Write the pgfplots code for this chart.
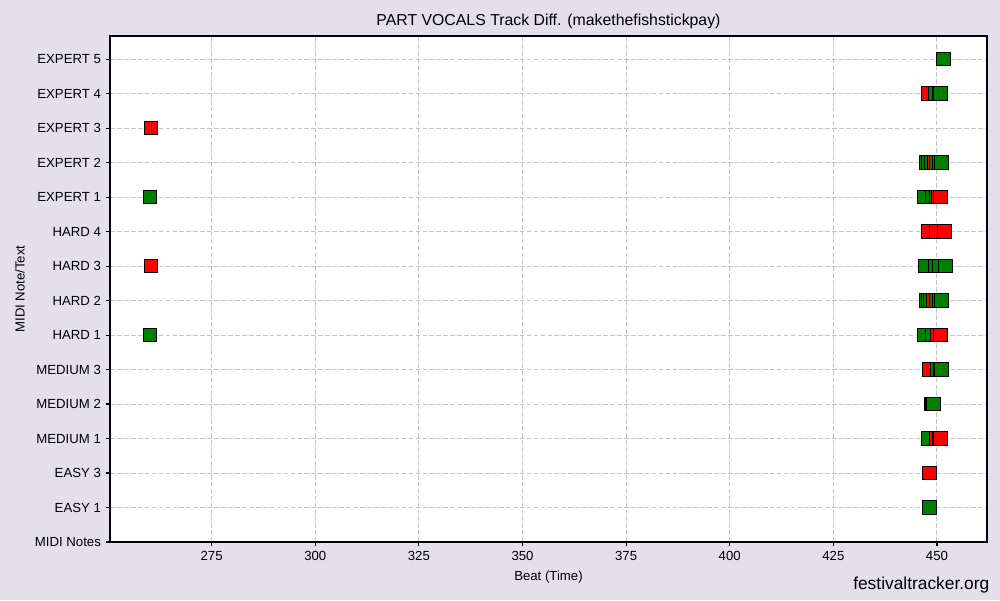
\documentclass[border=0pt]{standalone}
\usepackage{pgfplots}
\pgfplotsset{compat=1.18}
\usepackage{fontspec}
\setmainfont{Liberation Sans}
\definecolor{bgc}{RGB}{228,224,233}
\definecolor{mplgreen}{RGB}{0,128,0}
\definecolor{mplred}{RGB}{255,0,0}
\definecolor{gridc}{RGB}{196,196,196}
\pgfplotstableread{
x y c
451.63 14 g
448.01 13 r
449.70 13 g
450.66 13 g
450.83 13 g
260.40 12 r
447.53 11 g
448.00 11 g
448.73 11 g
449.38 11 r
449.94 11 g
450.59 11 g
451.15 11 g
260.12 10 g
447.04 10 g
448.97 10 g
449.94 10 g
450.30 10 r
450.90 10 r
448.01 9 r
449.90 9 r
451.80 9 r
260.36 8 r
447.21 8 g
449.63 8 g
450.59 8 g
452.04 8 g
447.36 7 g
447.84 7 g
448.42 7 g
449.14 7 r
449.77 7 g
450.59 7 g
451.07 7 g
260.12 6 g
447.04 6 g
448.97 6 g
450.01 6 r
450.90 6 r
448.18 5 r
450.01 5 g
450.83 5 g
451.07 5 g
448.57 4 r
448.88 4 g
449.22 4 g
448.01 3 g
449.77 3 r
450.59 3 r
450.90 3 r
448.13 2 r
448.13 1 g
}\pts
\begin{document}
\begin{tikzpicture}
\fill[bgc] (0pt,0pt) rectangle (720pt,432pt);
\begin{axis}[
  at={(79.2pt,41.76pt)}, anchor=south west,
  scale only axis, width=631.4pt, height=364.3pt,
  xmin=250.47, xmax=462.06, ymin=0, ymax=14.67,
  axis background/.style={fill=white},
  axis on top,
  axis line style={black, line width=0.8pt},
  xtick={275,300,...,450},
  ytick={0,...,14},
  yticklabels={MIDI Notes,EASY 1,EASY 3,MEDIUM 1,MEDIUM 2,MEDIUM 3,HARD 1,HARD 2,HARD 3,HARD 4,EXPERT 1,EXPERT 2,EXPERT 3,EXPERT 4,EXPERT 5},
  tick align=outside, major tick length=3pt,
  tick style={black, line width=0.8pt},
  xtick pos=bottom, ytick pos=left,
  grid=major,
  major grid style={gridc, line width=0.7pt, dash pattern=on 3.4pt off 1.6pt},
  ticklabel style={font=\fontsize{9.5}{11}\selectfont},
  /pgf/number format/assume math mode=true,
  /pgf/number format/1000 sep={},
  clip=false,
]
\addplot[only marks, scatter, scatter src=explicit symbolic,
  mark size=4.9pt, line width=0.7pt,
  scatter/classes={
    g={mark=square*, draw=black, fill=mplgreen},
    r={mark=square*, draw=black, fill=mplred}}]
  table[x=x, y=y, meta=c] {\pts};
\end{axis}
\node[font=\fontsize{11.4}{13}\selectfont] at (394.9pt,416.6pt) {PART VOCALS Track Diff. (makethefishstickpay)};
\node[font=\fontsize{9.5}{11}\selectfont] at (394.9pt,16.3pt) {Beat (Time)};
\node[font=\fontsize{9.5}{11}\selectfont, rotate=90] at (14.4pt,223.9pt) {MIDI Note/Text};
\node[font=\fontsize{12.5}{14}\selectfont, anchor=east, inner sep=0pt] at (712.5pt,10.8pt) {festivaltracker.org};
\end{tikzpicture}
\end{document}
